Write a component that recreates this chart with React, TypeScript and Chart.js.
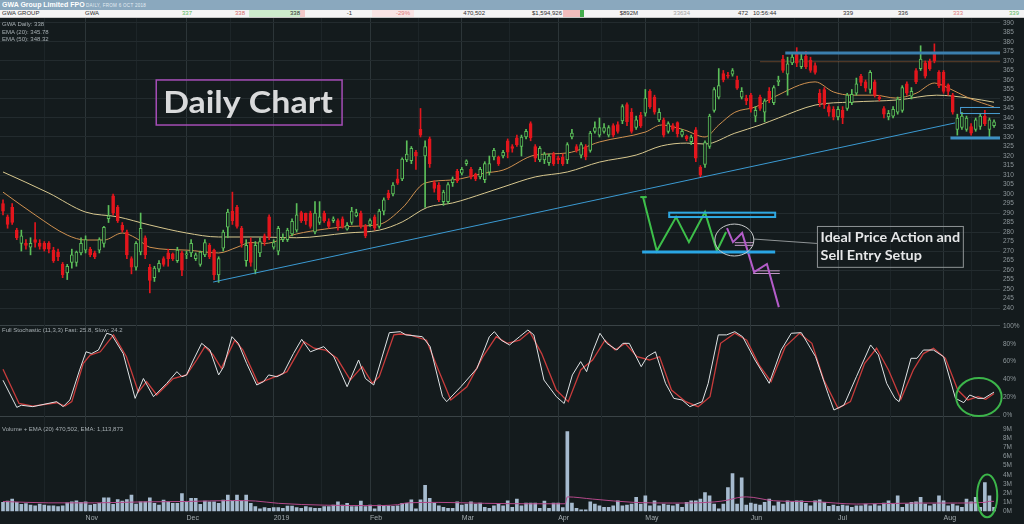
import React, { useEffect, useRef } from 'react';
import { Chart, registerables } from 'chart.js';
Chart.register(...registerables);

// ---------------- DATA ----------------
const monthLabels = ['Nov', 'Dec', '2019', 'Feb', 'Mar', 'Apr', 'May', 'Jun', 'Jul', 'Aug'];
const monthStarts = [18, 40, 59, 80, 100, 121, 140, 163, 182, 205];
const midMonthLines = [9, 29, 49.5, 69.5, 90.5, 110.5, 130.5, 151.5, 172.5, 193.5, 211];

const priceTicks = [240, 245, 250, 255, 260, 265, 270, 275, 280, 285, 290, 295, 300, 305, 310, 315, 320, 325, 330, 335, 340, 345, 350, 355, 360, 365, 370, 375, 380, 385, 390];
const stochTicks = [0, 20, 40, 60, 80, 100];
const volumeTicks = [0, 1, 2, 3, 4, 5, 6, 7, 8, 9];

const opens = [
  295, 288, 293, 281, 274, 274, 272, 276, 274, 274,
  274, 270.5, 269.5, 263, 258.5, 264, 264, 269, 270.5, 271,
  269, 270.5, 274, 287, 299, 293, 283.5, 280, 266, 261.5,
  269.5, 277, 261.5, 256, 260.5, 266, 269, 268.5, 265, 269,
  268, 269, 266, 263, 268, 273, 270.5, 257.5, 271.5, 282.5,
  291, 293, 282, 265, 274, 260, 269, 278, 288, 272,
  270, 276, 276, 279, 281, 290.3, 289.8, 290, 280, 285,
  290, 285.5, 286, 286, 287, 281.5, 285, 288.5, 290, 283,
  284, 288, 283, 291, 300.5, 300, 308, 308, 318, 317.5,
  322, 334, 320, 329, 306, 304.7, 296, 296, 306, 312,
  311, 316, 313, 310.5, 309, 307.5, 311.5, 319.5, 319.5, 320,
  328, 325, 329.5, 325, 330, 337, 325, 318, 317.9, 316.5,
  321, 319, 319.5, 318, 330, 325, 320.5, 325, 323, 333,
  331, 333, 331, 336, 336.5, 338.5, 347, 343, 335, 341.5,
  342.5, 354, 351, 339, 339, 333, 336, 337.6, 331, 330.5,
  327.5, 333.8, 314, 315.6, 325, 344, 351, 363.4, 362.5, 363,
  360, 351, 350.5, 352, 341, 351, 343, 354, 348, 359,
  371, 363, 369, 374, 367, 372.5, 370.5, 367.6, 353, 355,
  346, 344.5, 340.5, 344, 345, 348, 353, 362, 359, 355,
  359, 351, 345, 340.5, 341, 343, 344, 358, 351.5, 365,
  366, 369, 370, 373.8, 364, 364, 357.4, 352, 334, 335,
  334, 335.5, 334, 335.5, 341, 334, 336
];
const highs = [
  297, 289, 295, 282, 281, 276, 277, 285, 276, 275,
  275, 272, 271, 264, 263, 271, 270, 277, 278, 272,
  270, 277, 283, 294, 300, 294, 285, 281, 267, 275,
  290, 278, 263, 262, 265, 267, 271, 269, 272, 270,
  270, 276, 269, 270, 276, 274, 271, 267, 281, 292,
  301, 294, 283, 276, 277, 275, 277, 279, 289, 276,
  283, 279, 282, 287, 295, 291, 290, 291, 296, 296,
  291, 287, 288, 287, 288, 285, 293, 292, 291, 284,
  287, 289, 292, 298, 302, 306, 313, 319, 328, 325,
  323, 345, 328, 330, 307, 306, 302, 306, 309, 313,
  314, 318, 314, 311, 314, 317, 320, 324, 320, 323,
  329, 326, 331, 331, 334, 338, 326, 325, 322, 321,
  322, 320, 321, 327, 334, 326, 327, 326, 333, 338,
  340, 337, 336, 337, 338, 347, 348, 345, 341, 343,
  355, 355, 352, 345, 340, 338, 337, 338, 334, 331,
  331, 335, 315, 328, 342, 356, 366, 365, 364, 366,
  362, 356, 352, 353, 346, 352, 350, 356, 357, 362,
  373, 372, 374, 377, 374, 375, 372, 369, 355, 356,
  347, 346, 346, 346, 353, 355, 361, 363, 360, 365,
  360, 352, 346, 344, 346, 351, 357, 359, 356, 366,
  378, 370, 371, 379, 365, 365, 358, 353, 342, 343,
  341, 337, 340, 342, 344, 340, 339
];
const lows = [
  289, 282, 284, 276, 270, 271, 268, 272, 271, 270,
  269, 264, 265, 256, 255, 261, 262, 268, 269, 267,
  266, 269, 272, 285, 289, 285, 280, 266, 258, 260,
  268, 266, 248, 254, 259, 262, 262, 265, 264, 257,
  266, 267, 265, 262, 267, 266, 255, 253.5, 270, 277,
  284, 282, 272, 262, 262, 258, 267, 273, 276, 271,
  268, 275, 275, 278, 280, 285, 284, 282, 279, 284,
  285, 282, 285, 281, 282, 281, 284, 288, 282, 277,
  283, 281, 282, 289, 297, 299, 305, 307, 317, 316,
  313, 330, 293, 314, 301, 296, 294, 295, 304, 306,
  310, 315, 308, 307, 308, 306, 310, 318, 315, 319,
  319, 322, 325, 320, 329, 328, 317, 317, 316, 315,
  315, 316, 315, 316, 329, 322, 319, 318, 322, 332,
  330, 332, 330, 330, 332, 337, 336, 332, 334, 335,
  341, 345, 342, 338, 330, 332, 333, 330, 330, 328,
  326, 317, 309, 314, 324, 343, 350, 359, 361, 362,
  355, 350, 347, 343, 338, 344, 338, 348, 347, 357,
  364, 352, 368, 367, 366, 366, 364, 363, 346, 345,
  341, 339, 339, 337, 344, 347, 352, 357, 354, 353,
  351, 349, 340, 339, 340, 342, 343, 352, 350, 358,
  365, 361, 365, 369, 356, 353, 352, 342, 331, 334,
  333, 331, 333, 334, 336, 330, 335
];
const closes = [
  291, 284, 285, 277, 278, 273, 274, 274.5, 272.5, 271,
  271, 265, 267, 257.5, 262, 268, 269.5, 274, 276, 268,
  267, 276, 282.5, 288.5, 290, 286, 281, 268, 261.5, 274,
  282, 268, 254.5, 261, 263.5, 263, 266, 266, 270.5, 260,
  268.5, 274, 268, 269.5, 274.5, 267, 257.5, 266, 280, 290.5,
  286, 283, 274, 273, 264, 273, 275, 275, 277.6, 274.5,
  282, 277, 281, 285.6, 289, 286, 285.8, 283, 290, 288,
  286, 283, 287, 283, 283, 283.5, 291, 290.3, 283, 278,
  286, 282, 291, 297, 298, 304.7, 305.7, 318.4, 321, 324,
  320, 331, 325, 316, 303, 297, 301, 305, 308, 307,
  313, 317.5, 309, 308, 313, 316, 316, 323, 316, 322,
  322, 324, 326, 330, 333, 329.5, 318.8, 324, 321, 320,
  316, 318, 316, 326, 332, 323, 326, 319.5, 332, 335,
  335, 335, 335, 331, 333, 346, 338, 333, 339, 336,
  350.5, 346, 343, 343, 331, 337, 334, 331.8, 333, 329,
  330, 318.8, 310, 327, 341, 355, 357, 360, 362, 365,
  355.7, 354, 349, 344.6, 344, 345, 349, 349.5, 356, 360,
  365, 368.5, 372, 368.8, 371, 367, 365, 364, 348, 347,
  343, 340.5, 344.5, 340, 352, 352.5, 358, 358.7, 355.7, 364,
  352, 350, 342, 342.5, 344.5, 350, 356, 353, 354, 359,
  371, 362, 366, 370, 357, 354, 354, 343, 340, 341,
  340, 332, 339, 341, 337, 339, 338
];

const volumes = [
  1.0, 1.14, 1.36, 1.0, 0.8, 0.86, 0.7, 0.64, 0.82, 0.7,
  0.64, 0.64, 0.54, 0.64, 0.96, 1.07, 1.18, 1.0, 1.07, 0.7,
  0.8, 0.9, 1.5, 1.5, 0.8, 1.3, 1.14, 1.3, 1.8, 0.82,
  1.07, 1.07, 1.5, 0.9, 0.7, 1.25, 1.07, 0.9, 0.9, 1.96,
  1.07, 1.43, 1.43, 0.8, 1.14, 1.07, 1.07, 0.9, 1.25, 1.8,
  1.14, 1.8, 1.14, 1.8, 0.9, 0.54, 0.3, 0.43, 0.36, 0.43,
  0.43, 0.36, 0.6, 0.6, 0.43, 0.36, 0.54, 0.43, 0.36, 0.36,
  0.54, 0.54, 0.7, 1.07, 0.7, 0.9, 0.54, 0.54, 1.14, 0.54,
  0.7, 0.3, 0.7, 0.64, 0.64,
  0.57, 0.64, 0.9, 0.9, 1.29, 0.29, 1.29, 2.86, 1.43, 0.9,
  0.64, 0.46, 0.36, 0.36, 1.07, 0.71, 0.82, 1.07, 0.82, 0.93,
  0.46, 0.36, 0.64, 0.82, 0.64, 1.18, 0.46, 1.36, 0.64, 0.93,
  0.93, 0.93, 0.36, 1.14, 0.36, 0.93, 0.93, 0.43, 8.7, 0.93,
  0.36, 0.2, 0.2, 1.07, 0.82, 0.64, 0.46, 0.46, 0.64, 1.18,
  0.64, 0.71, 0.82, 1.54, 0.82, 1.71, 0.64, 1.18, 0.64, 0.82,
  0.71, 0.64, 0.82, 0.46, 1.0, 1.18, 1.18, 1.36, 2.07, 1.71,
  0.82, 0.29, 0.82, 2.6, 4.14, 0.82, 3.68, 0.71, 0.93, 0.82,
  0.71, 1.0, 1.36, 0.64, 1.07, 0.82, 1.18, 1.07, 1.18, 1.18, 0.9,
  0.64, 1.18, 1.29, 1.0, 0.57, 0.71, 0.57, 0.71, 0.64, 0.46,
  0.64, 0.64, 0.82, 0.64, 0.82, 0.64, 0.93, 1.18, 0.82, 1.71,
  0.46, 0.82, 1.0, 1.07, 1.54, 0.82, 0.64, 0.82, 1.71, 1.18,
  0.64, 0.82, 0.64, 0.46, 1.36, 1.07, 1.54, 0.46, 3.14, 1.71,
  0.46
];

const ema20Points: [number, number][] = [
  [0, 301], [7, 289], [14, 278.4], [18, 275.8], [22, 275.8], [26, 279.5], [29, 276.8], [32, 272],
  [40, 270.5], [47, 269], [51, 272], [54, 274.5], [57, 274], [64, 279], [70, 281.5], [76, 283],
  [82, 284], [87, 292.6], [92, 305.8], [98, 307.4], [105, 311], [109, 312.6], [116, 320.5],
  [123, 321.6], [130, 327.4], [140, 332.6], [143.5, 336.3], [148.5, 333.7], [153, 330],
  [156, 336.3], [159.5, 343], [164, 345.8], [168, 351], [177, 359], [181, 353.7], [185, 352],
  [190, 352], [194.5, 350.5], [199, 353], [203, 358.4], [206, 355.8], [210.5, 350.5], [216, 345.8]
];
const ema50Points: [number, number][] = [
  [0, 311.6], [10, 300.5], [18, 290.5], [25, 288], [32, 283.7], [40, 279.5], [47, 277.4],
  [56, 277.4], [64, 277], [75, 279.5], [82, 281], [87, 285.3], [92.5, 293], [98, 295.3],
  [105, 300.5], [109, 303.7], [116, 309], [123, 311.6], [130, 316.8], [138, 320.5],
  [143.5, 325.3], [149, 326.8], [153, 326.3], [159.5, 332], [165, 336.3], [169, 340],
  [177, 346.8], [185, 348.4], [195, 349.5], [203.5, 352], [210.5, 350.5], [216, 348.3]
];

const stochFast: [number, number][] = [
  [0, 39], [3, 8.6], [4, 11], [6.5, 9.4], [11.7, 15], [13.1, 9.4], [14.6, 17], [16.7, 50.6],
  [18.1, 71], [19.3, 69], [20.8, 73], [22.6, 91.8], [23.7, 90], [26.2, 69], [28.8, 18.7],
  [30.6, 41], [32.8, 20.6], [35.7, 35.6], [37.9, 48.7], [39, 43], [40, 45], [41.5, 61.8],
  [43.3, 80.5], [45.1, 73], [47, 45], [48.1, 54.3], [49.9, 88], [51.3, 80.5], [53.1, 58],
  [55.3, 33.7], [56.8, 37.5], [57.9, 45], [59.7, 43], [61.1, 46.8], [63.3, 69], [65.1, 85],
  [67, 71], [69.9, 76.8], [72.1, 65.5], [75, 31.8], [77.5, 61.8], [79, 41], [80.8, 33.7],
  [84.2, 92.5], [86.6, 93.6], [87.8, 90], [91.4, 88], [93.1, 76.8], [95.8, 20.6], [96.7, 15],
  [99.8, 31.8], [103.3, 52.4], [106, 88], [107.1, 93.6], [108.6, 84], [110.4, 78.7],
  [112.6, 88], [114.4, 95.5], [115.7, 90], [117.9, 39.3], [120.6, 20.6], [122.3, 13],
  [124.1, 45], [125.9, 60], [127.2, 48.7], [128.5, 71], [130.1, 91.8], [131.6, 80.5],
  [133.8, 73], [135.1, 80.5], [136.5, 80.5], [139.1, 54.3], [140.4, 65.5], [142.2, 71],
  [144.4, 35.6], [146.2, 18.7], [148, 16.9], [149.7, 9.4], [152.4, 15], [153.7, 35.6],
  [155.9, 90], [157.7, 90], [159.5, 93.6], [161.2, 88], [163.9, 61.8], [167, 35.6],
  [169.6, 73], [171.8, 91.8], [174, 92.5], [177.1, 65.5], [179.8, 24.3], [181.1, 5.6],
  [183.3, 11.2], [186, 43], [189.1, 78.7], [190.8, 67.4], [192.6, 35.6], [194.4, 18.7],
  [195.3, 15], [197.9, 63.7], [199.2, 63.7], [200.6, 73], [202.8, 73], [205, 65.5],
  [207.6, 18.7], [209.4, 13.9], [210.7, 22.5], [212.5, 18.7], [213.8, 18.7], [216, 25.8]
];
const stochSlow: [number, number][] = [
  [0, 51.3], [3.5, 13], [6.5, 10], [11.7, 13.8], [13.5, 10], [15, 15], [17.5, 58], [19, 67.4],
  [21.2, 71], [24.1, 90], [26.9, 65.5], [29.5, 26], [31.3, 37.5], [33.5, 22.5], [37.1, 41],
  [40, 45], [42.2, 61.8], [44, 76.8], [45.8, 67.4], [47.6, 52.4], [50.5, 84], [52.3, 73],
  [55.6, 35.6], [57.4, 39.3], [60.4, 45], [61.9, 48.7], [65.6, 82.4], [67.8, 75], [70.3, 73],
  [72.8, 63.7], [75.7, 39.3], [78.3, 54.3], [80.5, 35.6], [82, 43], [85.2, 90], [86.6, 91],
  [88.7, 90], [92.3, 84], [94.9, 50.6], [97.6, 16.9], [101.1, 31.8], [104.6, 65.5],
  [107.5, 88], [109.9, 80.5], [112.6, 84], [114.8, 93.6], [117.4, 69], [120.6, 28],
  [123.2, 15], [125.9, 50.6], [128.5, 61.8], [131.2, 84], [133.4, 73], [135.6, 80.5],
  [138.2, 65.5], [140.9, 61.8], [143.1, 65.5], [145.7, 28], [148.8, 15], [151.5, 9.4],
  [154.1, 20.6], [156.4, 80.5], [159.5, 91.8], [162.1, 84], [164.8, 56], [167.4, 37.5],
  [170.5, 76.8], [173.6, 91.8], [176.3, 80.5], [178.9, 39.3], [182, 7.5], [184.7, 15],
  [187.8, 58], [190.4, 75], [193, 50.6], [195.7, 17.6], [198.4, 50.6], [200.6, 69],
  [202.8, 75], [205.4, 63.7], [208.1, 28], [210.3, 16.9], [212.5, 20.6], [214.2, 17.6], [216, 24.2]
];

const volumeEma: [number, number][] = [
  [0, 1.1], [10, 0.95], [20, 0.95], [30, 1.05], [40, 1.1], [50, 1.2], [55, 1.15], [60, 0.9],
  [70, 0.7], [80, 0.65], [86, 0.75], [88, 0.95], [95, 1.0], [105, 0.9], [115, 0.85],
  [122.5, 0.85], [123, 1.6], [128.5, 1.36], [137.5, 1.0], [146, 0.93], [155, 1.05],
  [158, 1.25], [160, 1.5], [162, 1.6], [168, 1.18], [177, 1.07], [186, 0.82], [199, 0.93],
  [208, 0.93], [214, 1.0], [215, 1.12], [216, 1.11]
];

// annotation drawings, in (candle index, price) units
const trendLine: [number, number][] = [[45.8, 253.7], [207.5, 337.4]];
const resistanceLine: [number, number][] = [[170.5, 374.2], [217.3, 374.2]];
const supportLine: [number, number][] = [[206.5, 329.5], [217.3, 329.5]];
const faintLevel: [number, number][] = [[165, 369.6], [217.3, 369.6]];
const patternBase: [number, number][] = [[139.3, 269.5], [168.3, 269.5]];
const patternTopBox = { x0: 145.2, x1: 168.3, y0: 287.9, y1: 290.2 };
const consolidationBox = { x0: 208.6, x1: 217.3, y0: 342.6, y1: 345.8 };
const greenZigzag: [number, number][] = [[139.5, 298.4], [142.5, 270], [146.7, 287.9], [149.5, 274.7], [153, 290.5], [155.6, 270], [157.6, 280]];
const greenTick: [number, number][] = [[138.9, 298.4], [140.3, 298.4]];
const purplePath: [number, number][] = [[157.8, 282.1], [159.1, 274.7], [161.1, 279.5], [163.7, 258.9], [166.5, 263.2], [169.1, 240.5]];
const purpleBarA1: [number, number][] = [[159.5, 274.4], [163.5, 274.4]];
const purpleBarA2: [number, number][] = [[159.5, 273.0], [163.5, 273.0]];
const purpleBarB1: [number, number][] = [[163.5, 259.6], [169.3, 259.6]];
const purpleBarB2: [number, number][] = [[163.5, 258.2], [169.3, 258.2]];
const calloutLine: [number, number][] = [[163.7, 276.3], [177.4, 274.0]];
const patternEllipse = { cx: 159.4, cy: 275.8, rx: 4.25, ry: 8.4 };
const dailyBox = { x0: 33.4, x1: 73.9, y0: 336.3, y1: 360, tx0: 34.9, tx1: 71.9, ty: 342.6 };
const noteBox = { x0: 177.4, x1: 209.2, y0: 261.7, y1: 283.2, tx0: 178.2, tx1: 208.6, ty1: 274.9, ty2: 265.3 };
const stochEllipse = { cx: 212.7, cy: 20.2, rx: 4.95, ry: 21.3 };
const volumeEllipse = { cx: 214.5, cy: 1.71, rx: 2.2, ry: 2.33 };

// ---------------- STYLE ----------------
const BG = '#141b1d';
const X_MIN = -0.654;
const X_MAX = 217.3;
const AXIS_FONT = { family: '"Liberation Sans", Arial, sans-serif', size: 6.5 };

const pts = (a: [number, number][]) => a.map(([x, y]) => ({ x, y }));

const lineDs = (data: [number, number][], color: string, width: number, order: number, extra: any = {}) => ({
  type: 'line',
  data: pts(data),
  borderColor: color,
  borderWidth: width,
  pointRadius: 0,
  fill: false,
  tension: 0,
  order,
  ...extra,
});

const noPad = (s: any) => {
  s.paddingTop = 0;
  s.paddingBottom = 0;
  s.paddingLeft = 0;
  s.paddingRight = 0;
};

const xAxis = (labels: boolean) => ({
  type: 'linear',
  min: X_MIN,
  max: X_MAX,
  offset: false,
  afterBuildTicks: (s: any) => {
    s.ticks = [...midMonthLines, ...monthStarts].sort((a, b) => a - b).map((v) => ({ value: v }));
  },
  afterFit: noPad,
  grid: {
    offset: false,
    drawTicks: false,
    color: (ctx: any) => (ctx.tick && monthStarts.includes(ctx.tick.value) ? '#2c3538' : '#1d2528'),
  },
  border: { display: false },
  ticks: {
    display: labels,
    autoSkip: false,
    maxRotation: 0,
    align: 'start',
    padding: 2,
    color: '#a3abaf',
    font: { family: '"Liberation Sans", Arial, sans-serif', size: 7 },
    callback: (v: number) => {
      const k = monthStarts.indexOf(v);
      return k >= 0 ? monthLabels[k] : '';
    },
  },
});

const yAxis = (min: number, max: number, ticks: number[], fmt: (v: number) => string, gridColor: (v: number) => string) => ({
  position: 'right',
  min,
  max,
  afterBuildTicks: (s: any) => {
    s.ticks = ticks.map((v) => ({ value: v }));
  },
  afterFit: (s: any) => {
    s.width = 24;
    noPad(s);
  },
  grid: { drawTicks: false, color: (ctx: any) => (ctx.tick ? gridColor(ctx.tick.value) : 'rgba(0,0,0,0)') },
  border: { display: false },
  ticks: { autoSkip: false, padding: 3, color: '#8e979b', font: AXIS_FONT, callback: (v: number) => fmt(v) },
});

const baseOptions = (scales: any, padding: any = 0) => ({
  responsive: false,
  animation: false,
  events: [],
  layout: { padding },
  plugins: { legend: { display: false }, tooltip: { enabled: false } },
  scales,
});

function drawEllipse(chart: any, e: { cx: number; cy: number; rx: number; ry: number }, color: string, width: number) {
  const { ctx, scales } = chart;
  const cx = scales.x.getPixelForValue(e.cx);
  const cy = scales.y.getPixelForValue(e.cy);
  const rx = Math.abs(scales.x.getPixelForValue(e.cx + e.rx) - cx);
  const ry = Math.abs(scales.y.getPixelForValue(e.cy + e.ry) - cy);
  ctx.save();
  ctx.strokeStyle = color;
  ctx.lineWidth = width;
  ctx.beginPath();
  ctx.ellipse(cx, cy, rx, ry, 0, 0, Math.PI * 2);
  ctx.stroke();
  ctx.restore();
}

function boxPx(chart: any, b: { x0: number; x1: number; y0: number; y1: number }) {
  const { scales } = chart;
  const x0 = scales.x.getPixelForValue(b.x0);
  const x1 = scales.x.getPixelForValue(b.x1);
  const y0 = scales.y.getPixelForValue(b.y1);
  const y1 = scales.y.getPixelForValue(b.y0);
  return { x: x0, y: y0, w: x1 - x0, h: y1 - y0 };
}

function fittedText(ctx: CanvasRenderingContext2D, lines: string[], x: number, ys: number[], width: number, font: string, color: string) {
  ctx.save();
  ctx.font = font;
  ctx.fillStyle = color;
  ctx.textBaseline = 'alphabetic';
  ctx.textAlign = 'left';
  const w = ctx.measureText(lines[0]).width;
  const sx = width / w;
  lines.forEach((t, k) => {
    ctx.save();
    ctx.translate(x, ys[k]);
    ctx.scale(sx, 1);
    ctx.fillText(t, 0, 0);
    ctx.restore();
  });
  ctx.restore();
}

const mainAnnotations = {
  id: 'mainAnnotations',
  afterDatasetsDraw(chart: any) {
    const { ctx, chartArea, scales } = chart;
    ctx.save();
    ctx.beginPath();
    ctx.rect(chartArea.left, chartArea.top, chartArea.right - chartArea.left, chartArea.bottom - chartArea.top);
    ctx.clip();

    let r = boxPx(chart, patternTopBox);
    ctx.strokeStyle = '#2ea8e2';
    ctx.lineWidth = 2;
    ctx.strokeRect(r.x, r.y, r.w, r.h);
    r = boxPx(chart, consolidationBox);
    ctx.strokeStyle = '#4a9fd5';
    ctx.lineWidth = 1;
    ctx.strokeRect(r.x + 0.5, r.y + 0.5, r.w, r.h);

    drawEllipse(chart, patternEllipse, '#c9cccd', 1);

    r = boxPx(chart, dailyBox);
    ctx.strokeStyle = '#a54db6';
    ctx.lineWidth = 1.5;
    ctx.strokeRect(r.x, r.y, r.w, r.h);
    fittedText(
      ctx,
      ['Daily Chart'],
      scales.x.getPixelForValue(dailyBox.tx0),
      [scales.y.getPixelForValue(dailyBox.ty)],
      scales.x.getPixelForValue(dailyBox.tx1) - scales.x.getPixelForValue(dailyBox.tx0),
      'bold 31px Lato, "Open Sans", sans-serif',
      '#d9dadb'
    );

    r = boxPx(chart, noteBox);
    ctx.strokeStyle = '#8f9496';
    ctx.lineWidth = 1;
    ctx.strokeRect(r.x + 0.5, r.y + 0.5, r.w, r.h);
    fittedText(
      ctx,
      ['Ideal Price Action and', 'Sell Entry Setup'],
      scales.x.getPixelForValue(noteBox.tx0),
      [scales.y.getPixelForValue(noteBox.ty1), scales.y.getPixelForValue(noteBox.ty2)],
      scales.x.getPixelForValue(noteBox.tx1) - scales.x.getPixelForValue(noteBox.tx0),
      'bold 14px Lato, "Open Sans", sans-serif',
      '#e6e7e8'
    );
    ctx.restore();
  },
};

const stochAnnotations = {
  id: 'stochAnnotations',
  afterDatasetsDraw(chart: any) {
    drawEllipse(chart, stochEllipse, '#3cb54a', 2);
  },
};
const volumeAnnotations = {
  id: 'volumeAnnotations',
  afterDraw(chart: any) {
    drawEllipse(chart, volumeEllipse, '#3cb54a', 2);
  },
};

function mainConfig(): any {
  const idx = closes.map((_, i) => i);
  const up = (i: number) => closes[i] >= opens[i];
  const RED = '#e3161d';
  const GREEN = '#5cbf5a';
  return {
    type: 'bar',
    data: {
      datasets: [
        lineDs(trendLine, '#3b9ad2', 1, 0),
        lineDs(resistanceLine, '#3b7fae', 3, 0),
        lineDs(supportLine, '#3d8fc3', 3, 0),
        lineDs(faintLevel, 'rgba(170,100,55,0.5)', 1, 4),
        lineDs(patternBase, '#2aa6e4', 3, 0),
        lineDs(greenZigzag, '#3dbf4a', 2, 0),
        lineDs(greenTick, '#3dbf4a', 2, 0),
        lineDs(purplePath, '#b45cc9', 2, 0),
        lineDs(purpleBarA1, '#c79ac9', 1, 0),
        lineDs(purpleBarA2, '#c79ac9', 1, 0),
        lineDs(purpleBarB1, '#c79ac9', 1, 0),
        lineDs(purpleBarB2, '#c79ac9', 1, 0),
        lineDs(calloutLine, '#8f9496', 1, 0),
        {
          type: 'bar',
          data: idx.map((i) => ({ x: i, y: [opens[i], closes[i]] })),
          backgroundColor: idx.map((i) => (up(i) ? BG : RED)),
          borderColor: idx.map((i) => (up(i) ? GREEN : RED)),
          borderWidth: 1,
          borderSkipped: false,
          barThickness: 3,
          minBarLength: 1,
          grouped: false,
          order: 1,
        },
        {
          type: 'bar',
          data: idx.map((i) => ({ x: i, y: [lows[i], highs[i]] })),
          backgroundColor: idx.map((i) => (up(i) ? GREEN : RED)),
          borderWidth: 0,
          barThickness: 1,
          grouped: false,
          order: 2,
        },
        lineDs(ema20Points, '#cf9150', 1, 3, { tension: 0.4, cubicInterpolationMode: 'monotone' }),
        lineDs(ema50Points, '#d8c88f', 1, 3, { tension: 0.4, cubicInterpolationMode: 'monotone' }),
      ],
    },
    options: baseOptions({
      x: xAxis(false),
      y: yAxis(231.1, 392.6, priceTicks, (v) => String(v), (v) => (v % 10 === 0 ? '#232b2e' : 'rgba(0,0,0,0)')),
    }),
    plugins: [mainAnnotations],
  };
}

function stochConfig(): any {
  return {
    type: 'line',
    data: {
      datasets: [
        lineDs(stochFast, '#dfe3e5', 1, 0),
        lineDs(stochSlow, '#c93c3c', 1.3, 1),
      ],
    },
    options: baseOptions(
      {
        x: xAxis(false),
        y: yAxis(-1.1, 101.1, stochTicks, (v) => v + '%', () => 'rgba(0,0,0,0)'),
      },
      { top: 5, bottom: 5, left: 0, right: 0 }
    ),
    plugins: [stochAnnotations],
  };
}

function volumeConfig(): any {
  return {
    type: 'bar',
    data: {
      datasets: [
        lineDs(volumeEma, '#b4498a', 1, 0, { tension: 0.3, cubicInterpolationMode: 'monotone' }),
        {
          type: 'bar',
          data: volumes.map((v, i) => ({ x: i, y: v })),
          backgroundColor: '#a6bbcf',
          borderWidth: 0,
          barThickness: 3,
          grouped: false,
          order: 1,
        },
      ],
    },
    options: baseOptions({
      x: xAxis(true),
      y: yAxis(0, 10.38, volumeTicks, (v) => v + 'M', () => 'rgba(0,0,0,0)'),
    }),
    plugins: [volumeAnnotations],
  };
}

const quoteFields: { t: string; x: number; right?: boolean; c?: string }[] = [
  { t: 'GWA GROUP', x: 2 },
  { t: 'GWA', x: 85 },
  { t: '337', x: 192, right: true, c: '#5cb85c' },
  { t: '338', x: 245, right: true, c: '#d46a6a' },
  { t: '338', x: 300, right: true },
  { t: '-1', x: 352, right: true },
  { t: '-29%', x: 410, right: true, c: '#e07b7b' },
  { t: '470,502', x: 485, right: true },
  { t: '$1,594,926', x: 562, right: true },
  { t: '$892M', x: 638, right: true },
  { t: '33634', x: 690, right: true, c: '#a3a3a3' },
  { t: '472', x: 748, right: true },
  { t: '10:56:44', x: 753 },
  { t: '339', x: 853, right: true },
  { t: '336', x: 908, right: true },
  { t: '333', x: 963, right: true, c: '#e07b7b' },
  { t: '339', x: 1019, right: true, c: '#5cb85c' },
];

export default function App() {
  const mainRef = useRef<HTMLCanvasElement>(null);
  const stochRef = useRef<HTMLCanvasElement>(null);
  const volRef = useRef<HTMLCanvasElement>(null);

  useEffect(() => {
    document.body.style.margin = '0';
    document.body.style.background = BG;
    const charts: Chart[] = [];
    if (mainRef.current) charts.push(new Chart(mainRef.current, mainConfig()));
    if (stochRef.current) charts.push(new Chart(stochRef.current, stochConfig()));
    if (volRef.current) charts.push(new Chart(volRef.current, volumeConfig()));
    return () => charts.forEach((c) => c.destroy());
  }, []);

  const small: React.CSSProperties = { position: 'absolute', fontSize: 6, lineHeight: '7px', color: '#a6aeb2', whiteSpace: 'nowrap' };

  return (
    <div
      style={{
        position: 'relative',
        width: 1024,
        height: 524,
        background: BG,
        overflow: 'hidden',
        fontFamily: '"Liberation Sans", Arial, sans-serif',
      }}
    >
      <div style={{ position: 'absolute', left: 0, top: 0, width: 1024, height: 10, background: '#8aa8be' }}>
        <span style={{ position: 'absolute', left: 2, top: 1, fontSize: 7, lineHeight: '8px', fontWeight: 'bold', color: '#ffffff', whiteSpace: 'nowrap' }}>
          GWA Group Limited FPO
        </span>
        <span style={{ position: 'absolute', left: 86, top: 3, fontSize: 4.5, lineHeight: '5px', color: '#e4edf3', whiteSpace: 'nowrap', letterSpacing: 0.3 }}>
          DAILY, FROM 6 OCT 2018
        </span>
      </div>
      <div style={{ position: 'absolute', left: 0, top: 10, width: 1024, height: 7, background: '#f4f4f4', borderBottom: '1px solid #c6c6c6' }}>
        <div style={{ position: 'absolute', left: 249, top: 0, width: 51, height: 7, background: '#cdeccd' }} />
        <div style={{ position: 'absolute', left: 300, top: 0, width: 5, height: 7, background: '#f2c8c8' }} />
        <div style={{ position: 'absolute', left: 372, top: 0, width: 42, height: 7, background: '#f9e4e4' }} />
        <div style={{ position: 'absolute', left: 563, top: 0, width: 17, height: 7, background: '#f1bcbc' }} />
        <div style={{ position: 'absolute', left: 580, top: 0, width: 4, height: 7, background: '#43ad4c' }} />
        {quoteFields.map((f, k) => (
          <span
            key={k}
            style={{
              position: 'absolute',
              top: 0,
              fontSize: 6,
              lineHeight: '7px',
              whiteSpace: 'nowrap',
              color: f.c || '#2e2e2e',
              ...(f.right ? { right: 1024 - f.x } : { left: f.x }),
            }}
          >
            {f.t}
          </span>
        ))}
      </div>

      <canvas ref={mainRef} width={1024} height={307} style={{ position: 'absolute', left: 0, top: 18 }} />
      <div style={{ position: 'absolute', left: 0, top: 325, width: 1000, height: 1, background: '#3a4346' }} />
      <div style={{ position: 'absolute', left: 0, top: 416, width: 1000, height: 1, background: '#3a4346' }} />
      <canvas ref={volRef} width={1024} height={108} style={{ position: 'absolute', left: 0, top: 416 }} />
      <canvas ref={stochRef} width={1024} height={101} style={{ position: 'absolute', left: 0, top: 320 }} />

      <div style={{ ...small, left: 2, top: 21 }}>GWA Daily: 338</div>
      <div style={{ ...small, left: 2, top: 29 }}>EMA (20): 345.78</div>
      <div style={{ ...small, left: 2, top: 36 }}>EMA (50): 348.32</div>
      <div style={{ ...small, left: 2, top: 327 }}>Full Stochastic (11,3,3) Fast: 25.8, Slow: 24.2</div>
      <div style={{ ...small, left: 2, top: 426 }}>Volume + EMA (20) 470,502, EMA: 1,113,873</div>
    </div>
  );
}
